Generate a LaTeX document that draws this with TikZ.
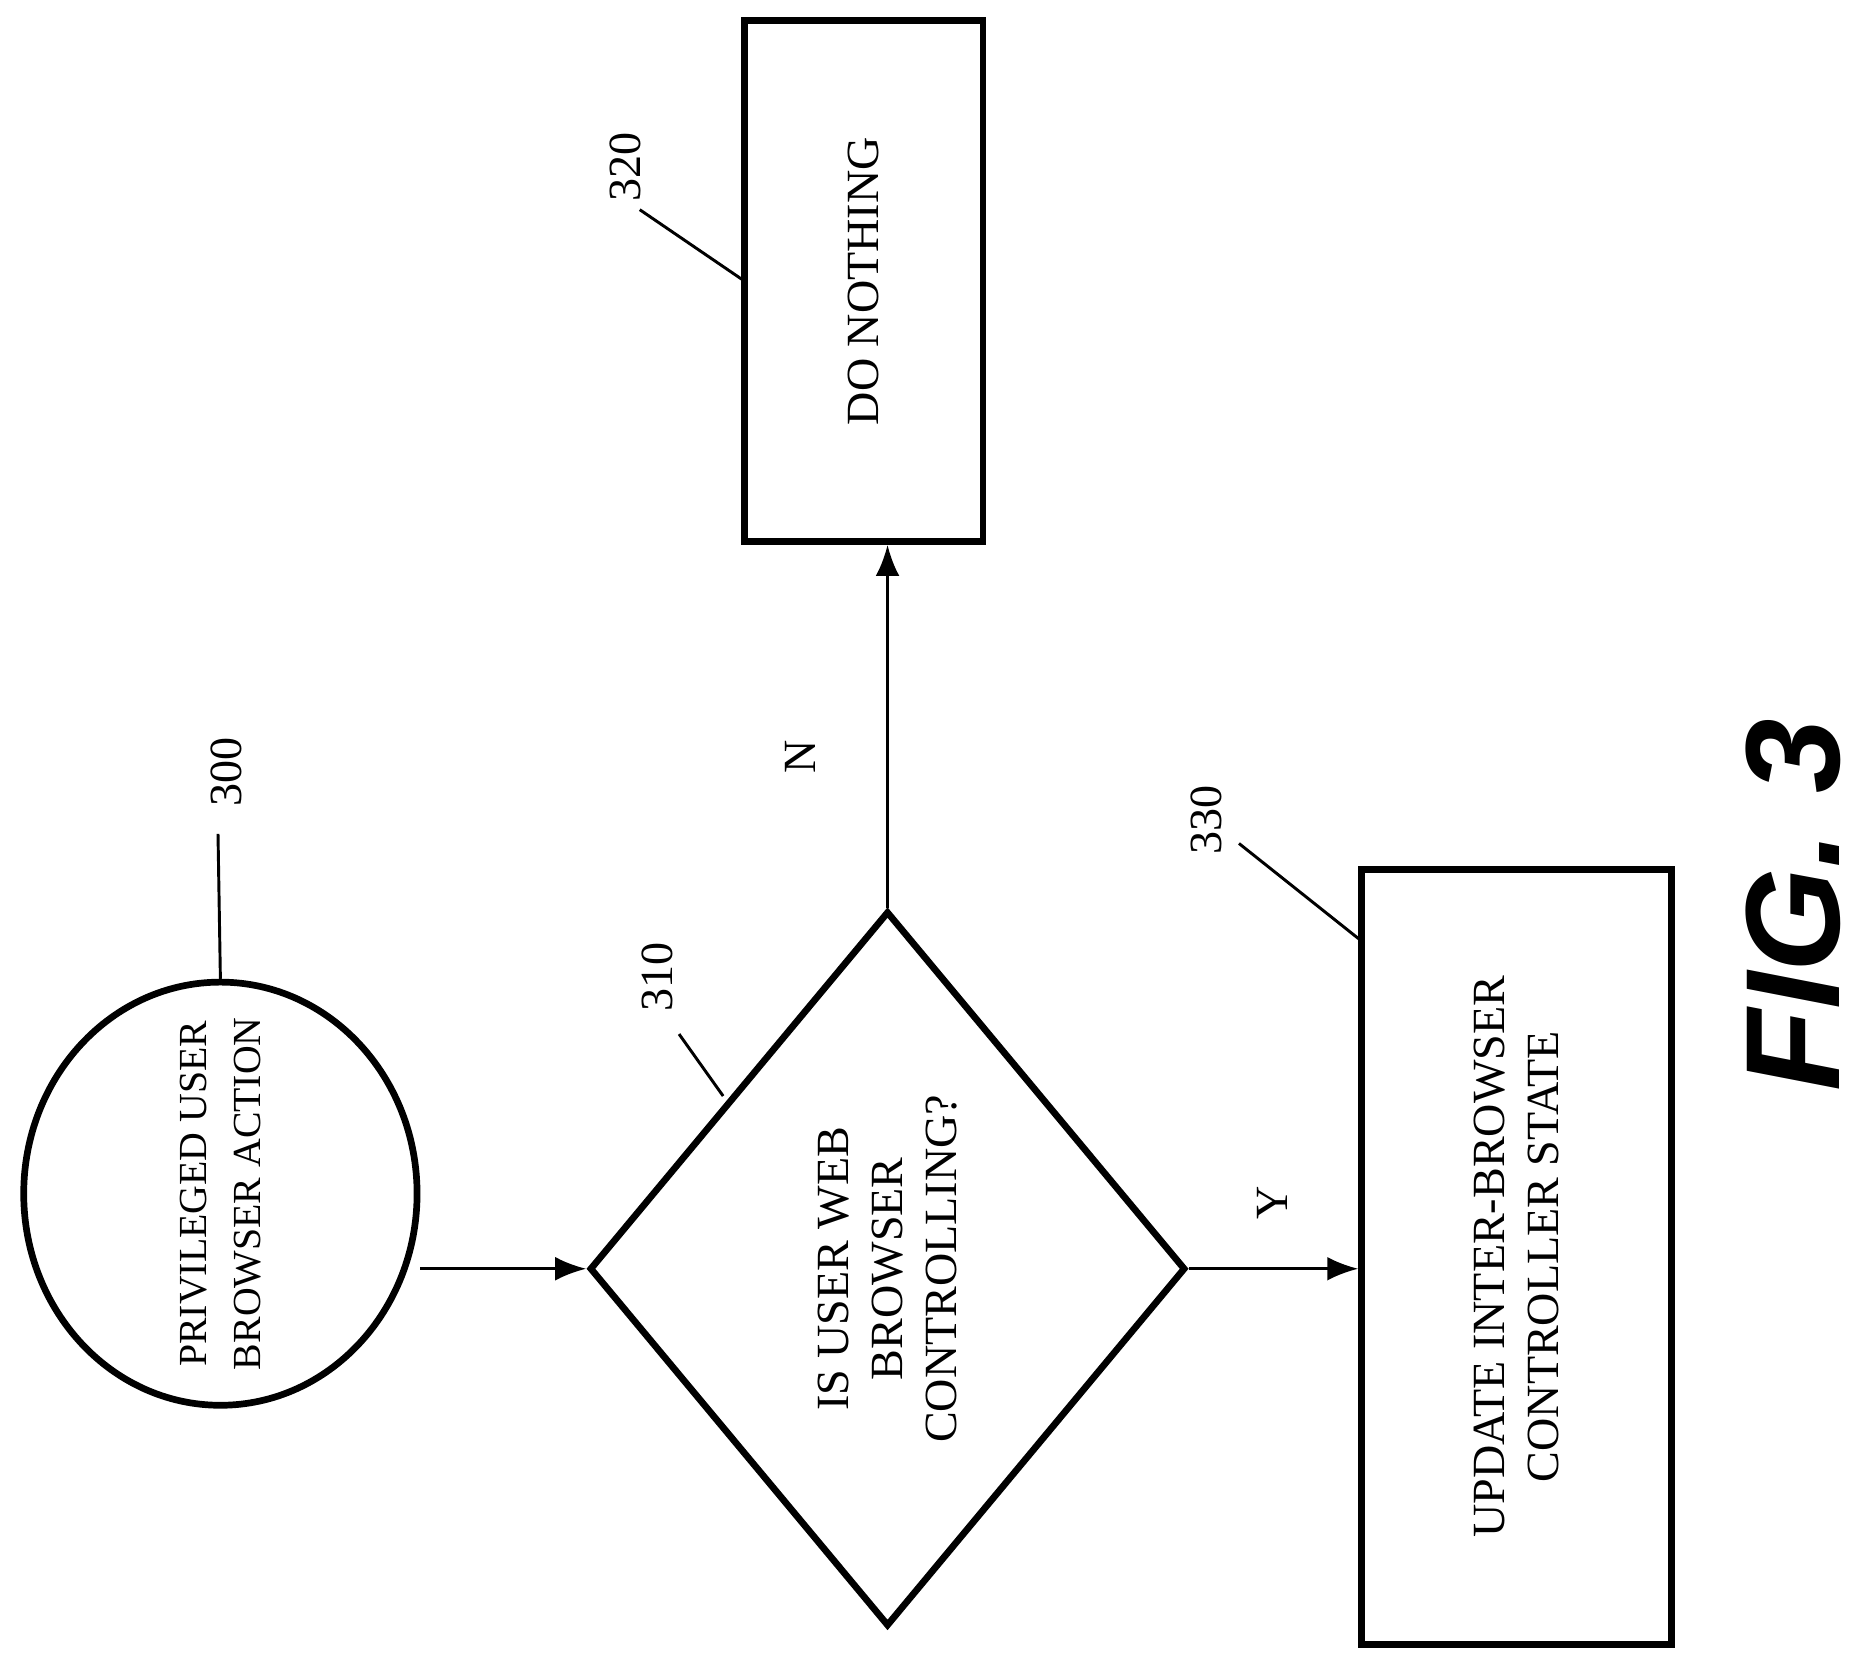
\documentclass[tikz,border=0pt]{standalone}
\usepackage{fontspec}
\setmainfont{Liberation Serif}
\setsansfont{Liberation Sans}
\usetikzlibrary{shapes.geometric,arrows.meta}

\tikzset{
  block/.style={draw, line width=1.6pt, rectangle, inner sep=0pt},
  flow/.style={-{Latex[length=2.6mm,width=2mm]}, line width=0.7pt},
  lead/.style={line width=0.7pt},
  refnum/.style={font=\fontsize{11}{12}\selectfont, rotate=90},
  txt/.style={font=\fontsize{11}{13}\selectfont, align=center, rotate=90}
}

\begin{document}
\begin{tikzpicture}[x=0.01cm, y=-0.01cm]
      \useasboundingbox (0,0) rectangle (1568,1400);
      % shapes
      \node[block, ellipse, minimum width=3.3cm, minimum height=3.55cm] (start) at (185,1002) {};
      \node[block, diamond, minimum width=5cm, minimum height=6cm] (check) at (745,1065) {};
      \node[block, minimum width=2cm, minimum height=4.37cm] (nothing) at (725,236) {};
      \node[block, minimum width=2.6cm, minimum height=6.5cm] (update) at (1273,1055) {};

      % texts
      \node[txt, font=\fontsize{9.5}{13}\selectfont] (tstart) at (start) {PRIVILEGED USER\\BROWSER ACTION};
      \node[txt] (tcheck) at (check) {IS USER WEB\\BROWSER\\CONTROLLING?};
      \node[txt] (tnothing) at (nothing) {DO NOTHING};
      \node[txt] (tupdate) at (update) {UPDATE INTER-BROWSER\\CONTROLLER STATE};

      % connectors
      \draw[flow] (start.east |- check.west) -- (check.west);
      \draw[flow] (check.north) -- (check.north |- nothing.south);
      \draw[flow] (check.east) -- (check.east -| update.west);
      \node[refnum] (lN) at (672,635) {N};
      \node[refnum] (lY) at (1068,1010) {Y};

      % reference numerals
      \node[refnum] (r300) at (190,648) {300};
      \coordinate (c300) at (183,700);
      \draw[lead] (start.north) -- (c300);
      \node[refnum] (r310) at (552,820) {310};
      \coordinate (c310a) at (570,868);
      \coordinate (c310b) at (607,920);
      \draw[lead] (c310a) -- (c310b);
      \node[refnum] (r320) at (525,140) {320};
      \coordinate (c320) at (537,176);
      \draw[lead] (c320) -- (625,236);
      \node[refnum] (r330) at (1013,688) {330};
      \coordinate (c330) at (1040,708);
      \draw[lead] (c330) -- (1143,790);

      \node[font=\sffamily\bfseries\itshape\fontsize{32}{34}\selectfont, rotate=90] (fig) at (1505,760) {FIG. 3};
\end{tikzpicture}
\end{document}
